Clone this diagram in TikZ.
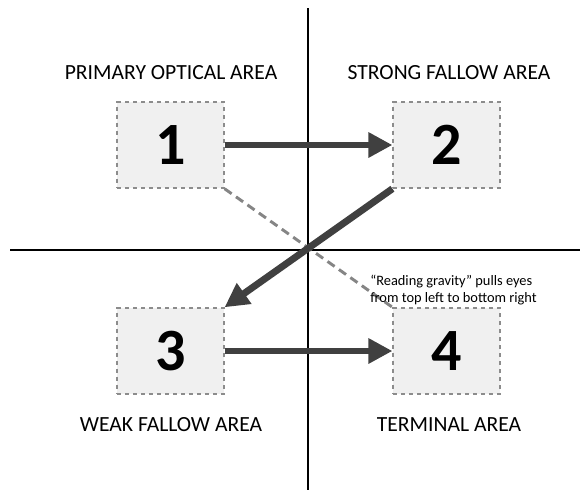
\documentclass[tikz,border=0pt]{standalone}
\usepackage{fontspec}
\setmainfont{Carlito}
\usetikzlibrary{arrows.meta}

\tikzset{
  areabox/.style={draw=black!45, dashed, line width=1.1pt, fill=black!6,
    minimum width=80pt, minimum height=64.5pt, inner sep=0pt,
    font=\fontsize{45}{45}\selectfont\bfseries},
  arealabel/.style={font=\fontsize{16.2}{18}\selectfont, inner sep=0pt},
  flow/.style={draw=black!75, line width=5.2pt,
    -{Triangle[length=18pt,width=18pt]}, shorten >=0pt},
  gravity/.style={draw=black!48, line width=2.2pt, dash pattern=on 6.5pt off 4pt},
  axis/.style={line width=1.5pt}
}

\begin{document}
\begin{tikzpicture}[x=0.75pt, y=-0.75pt]
			%%%%% START %%%%%
			\useasboundingbox (0,0) rectangle (582,493);

			% axes
			\draw[axis] (308,8) -- (308,490);
			\draw[axis] (10,250) -- (580,250);

			% boxes
			\node[areabox] (one)   at (170.5,145) {1};
			\node[areabox] (two)   at (446.5,145) {2};
			\node[areabox] (three) at (170.5,351) {3};
			\node[areabox] (four)  at (446.5,351) {4};

			% labels
			\node[arealabel] (lone)   at (171,73)  {PRIMARY OPTICAL AREA};
			\node[arealabel] (ltwo)   at (449,73)  {STRONG FALLOW AREA};
			\node[arealabel] (lthree) at (171,425) {WEAK FALLOW AREA};
			\node[arealabel] (lfour)  at (449,425) {TERMINAL AREA};

			% reading gravity
			\draw[gravity] (one.south east) -- (four.north west);
			\node[anchor=north west, align=left, inner sep=0pt,
			  font=\fontsize{10.8}{13}\selectfont] (note) at (370,275)
			  {“Reading gravity” pulls eyes\\from top left to bottom right};

			% flow
			\draw[flow] (one.east) -- (two.west);
			\draw[flow] (two.south west) -- (three.north east);
			\draw[flow] (three.east) -- (four.west);
			%%%%% END %%%%%
\end{tikzpicture}
\end{document}
